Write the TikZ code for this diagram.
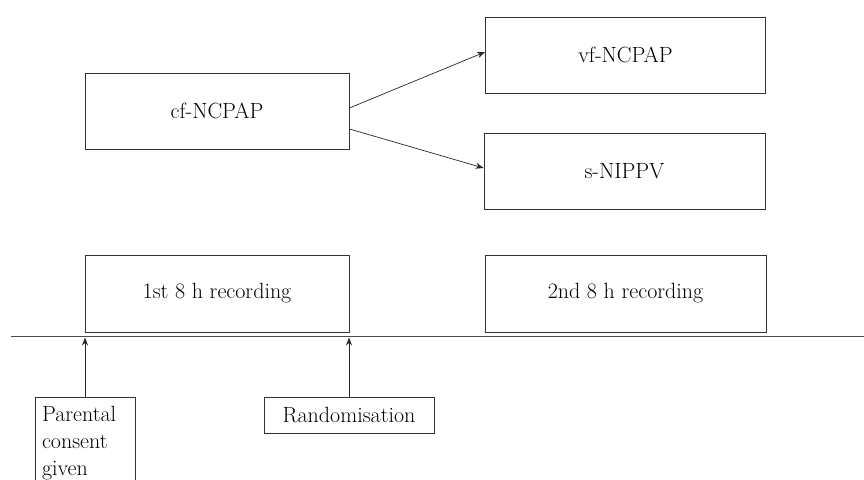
\documentclass[tikz,border=0pt]{standalone}
\usepackage{tikz}
\usetikzlibrary{
    positioning,   % Relative positioning
    arrows.meta    % Modern arrow tips
}

\tikzset{
    phasebox/.style={draw=black!80, line width=0.8pt, inner sep=0pt,
        font=\fontsize{22}{27}\selectfont},
    notebox/.style={draw=black!80, line width=0.7pt,
        font=\fontsize{22}{27}\selectfont},
    flowarrow/.style={-{Stealth[length=8pt,width=6pt]}, line width=0.7pt, black!85}
}

\begin{document}
\begin{tikzpicture}[x=1pt,y=-1pt]
    \useasboundingbox (0,0) rectangle (864,479);
    % modes of support
    \node[phasebox, minimum width=264, minimum height=76] (cf) at (217,111) {cf-NCPAP};
    \node[phasebox, minimum width=280, minimum height=76] (vf) at (625.5,55) {vf-NCPAP};
    \node[phasebox, minimum width=281, minimum height=76] (sn) at (624.5,171) {s-NIPPV};
    \draw[flowarrow] ([yshift=3pt]cf.east) -- ([yshift=3pt]vf.west);
    \draw[flowarrow] ([yshift=-18pt]cf.east) -- ([yshift=3pt]sn.west);
    % recordings on the time line
    \node[phasebox, minimum width=264, minimum height=77] (rec1) at (217,293.5) {1st 8 h recording};
    \node[phasebox, minimum width=281, minimum height=77] (rec2) at (625.5,293.5) {2nd 8 h recording};
    \draw[black!70, line width=0.9pt] (11,336) -- (864,336);
    \coordinate (t1) at (85,337.5);
    \coordinate (t2) at (349,337.5);
    % events
    \node[notebox, anchor=north, minimum width=100, text width=86pt,
        inner xsep=7pt, inner ysep=9pt, align=left, text depth=50pt]
        (consent) at (85,397) {Parental\\consent\\given};
    \node[notebox, minimum width=170, minimum height=36, inner sep=0pt] (rand) at (349,415) {Randomisation};
    \draw[flowarrow] (consent.north) -- (t1);
    \draw[flowarrow] (rand.north) -- (t2);
\end{tikzpicture}
\end{document}
